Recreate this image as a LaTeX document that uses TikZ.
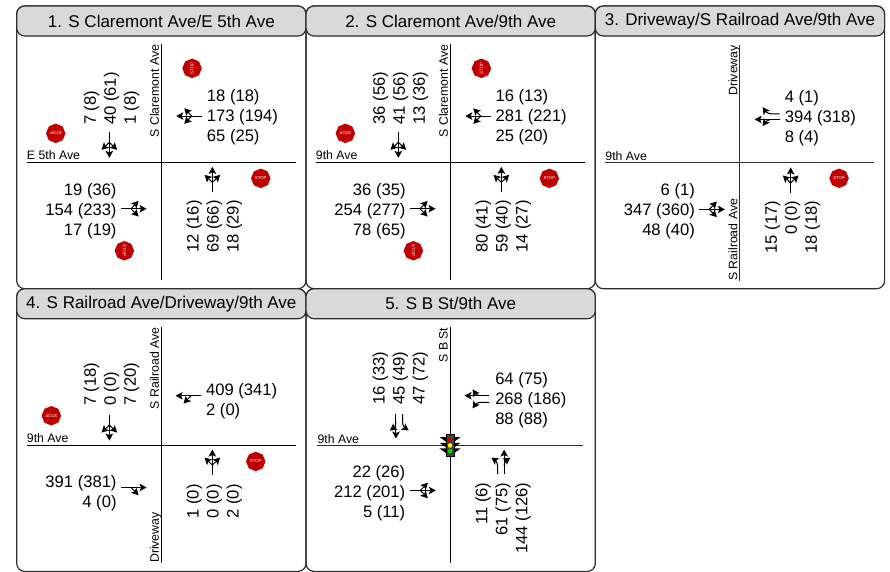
\documentclass[tikz,border=0pt]{standalone}
\usepackage{fontspec}
\setmainfont{Liberation Sans}
\usetikzlibrary{arrows.meta,positioning,shapes.geometric,calc}
\definecolor{rStop}{RGB}{192,0,0}
\definecolor{rHead}{RGB}{217,217,217}
\definecolor{rEdge}{RGB}{45,45,45}
\tikzset{
	mv/.style={-{Stealth[length=7pt,width=7.5pt,inset=1.5pt]},line width=1pt},
	pics/mvall/.style={code={
			\draw[mv](0,0)--(25.5,0);
			\draw[mv](10,0)--(17.5,7.8);
			\draw[mv](10,0)--(17.5,-7.8);
	}},
	pics/mvtl/.style={code={
			\draw[mv](0,0)--(25.5,0);
			\draw[mv](10,0)--(17.5,7.8);
	}},
	pics/mvtr/.style={code={
			\draw[mv](0,0)--(25.5,0);
			\draw[mv](10,0)--(17.5,-7.8);
	}},
	pics/mvltr/.style={code={
			\draw[mv](0,3.3)--(8,3.3) to[out=0,in=-125] (16.5,9.5);
			\draw[mv](0,-3.3)--(24.5,-3.3);
			\draw[mv](8,-3.3) to[out=0,in=125] (16.5,-9.5);
	}},
	pics/mvrtl/.style={code={
			\draw[mv](0,-2.8)--(8,-2.8) to[out=0,in=125] (17,-9.5);
			\draw[mv](0,2.8)--(25,2.8);
			\draw[mv](8,2.8) to[out=0,in=-125] (17,9.5);
	}}
}
\begin{document}
\begin{tikzpicture}[
			x=1pt,y=1pt,
			frame/.style={
				draw=rEdge,
				line width=1.2pt,
				rounded corners=8pt,
				minimum width=289.3pt,
				minimum height=282.7pt,
				inner sep=0pt,
				outer sep=0pt
			},
			hdr/.style={
				draw=rEdge,
				fill=rHead,
				line width=1.2pt,
				rounded corners=8pt,
				minimum width=289.3pt,
				minimum height=30pt,
				inner sep=0pt,
				outer sep=0pt,
				font=\fontsize{17}{20}\selectfont
			},
			road/.style={line width=1pt,black},
			vol/.style={inner sep=0pt,yshift=-1.5pt,font=\fontsize{16.6}{20}\selectfont},
			volup/.style={rotate=90,vol},
			st/.style={inner sep=0pt,font=\fontsize{12.3}{14}\selectfont},
			stop/.style={
				regular polygon,
				regular polygon sides=8,
				shape border rotate=22.5,
				fill=rStop,
				text=white,
				minimum size=19.5pt,
				inner sep=0pt,
				font=\fontsize{4.3}{5}\selectfont
			},
			lamp/.style={circle,minimum size=4.6pt,inner sep=0pt}
			]
			\useasboundingbox(0,0) rectangle (890,-571);
			\node[frame](box1) at (161.35,-147.35){};
			\node[frame,right=0pt of box1](box2){};
			\node[frame,right=0pt of box2](box3){};
			\node[frame,below=0pt of box1](box4){};
			\node[frame,below=0pt of box2](box5){};
			\node[hdr,anchor=north](hdr1) at (box1.north){1. S Claremont Ave/E 5th Ave};
			\node[hdr,anchor=north](hdr2) at (box2.north){2. S Claremont Ave/9th Ave};
			\node[hdr,anchor=north](hdr3) at (box3.north){3. Driveway/S Railroad Ave/9th Ave};
			\node[hdr,anchor=north](hdr4) at (box4.north){4. S Railroad Ave/Driveway/9th Ave};
			\node[hdr,anchor=north](hdr5) at (box5.north){5. S B St/9th Ave};
			
			% intersection 1
			\begin{scope}[shift={($(box1.center)+(0,-15)$)}]
				\draw[road](-134.6,0)--(134.6,0);
				\draw[road](0,118)--(0,-118);
				\node[st,anchor=base west](ew1) at (-134.6,2.4){E 5th Ave};
				\node[st,rotate=90,anchor=base east](ns1) at (-2.4,118){S Claremont Ave};
				\node[volup,align=left,anchor=west](sb1) at (-51.3,37.3){7 (8)\\40 (61)\\1 (8)};
				\node[vol,align=left,anchor=west](wb1) at (45.4,46.3){18 (18)\\173 (194)\\65 (25)};
				\node[vol,align=right,anchor=east](eb1) at (-44.6,-47){19 (36)\\154 (233)\\17 (19)};
				\node[volup,align=right,anchor=east](nb1) at (51.5,-37.7){12 (16)\\69 (66)\\18 (29)};
				\pic[rotate=270](msb1) at (-52,30){mvall};
				\pic[rotate=180](mwb1) at (40.4,46.3){mvall};
				\pic(meb1) at (-40.3,-46.4){mvall};
				\pic[rotate=90](mnb1) at (51,-30){mvall};
				\node[stop,rotate=90](stn1) at (30.7,94){STOP};
				\node[stop,rotate=180](stw1) at (-105.6,29){STOP};
				\node[stop](ste1) at (99.4,-16){STOP};
				\node[stop,rotate=270](sts1) at (-37,-88.4){STOP};
			\end{scope}
			
			% intersection 2
			\begin{scope}[shift={($(box2.center)+(-.3,-15)$)}]
				\draw[road](-134.6,0)--(134.6,0);
				\draw[road](0,118)--(0,-118);
				\node[st,anchor=base west](ew2) at (-134.6,2.4){9th Ave};
				\node[st,rotate=90,anchor=base east](ns2) at (-2.4,118){S Claremont Ave};
				\node[volup,align=left,anchor=west](sb2) at (-51.3,37.8){36 (56)\\41 (56)\\13 (36)};
				\node[vol,align=left,anchor=west](wb2) at (45,46.3){16 (13)\\281 (221)\\25 (20)};
				\node[vol,align=right,anchor=east](eb2) at (-44.6,-47){36 (35)\\254 (277)\\78 (65)};
				\node[volup,align=right,anchor=east](nb2) at (51.5,-37.7){80 (41)\\59 (40)\\14 (27)};
				\pic[rotate=270](msb2) at (-52,30){mvall};
				\pic[rotate=180](mwb2) at (40.4,46.3){mvall};
				\pic(meb2) at (-40.3,-46.4){mvall};
				\pic[rotate=90](mnb2) at (51,-30){mvall};
				\node[stop,rotate=90](stn2) at (31,94){STOP};
				\node[stop,rotate=180](stw2) at (-105,29){STOP};
				\node[stop](ste2) at (99,-16){STOP};
				\node[stop,rotate=270](sts2) at (-37,-88.4){STOP};
			\end{scope}
			
			% intersection 3
			\begin{scope}[shift={($(box3.center)+(-.3,-15.6)$)}]
				\draw[road,rEdge](-134.4,0)--(134.4,0);
				\draw[road,rEdge](0,118)--(0,-118);
				\node[st,anchor=base west](ew3) at (-134.4,2.4){9th Ave};
				\node[st,rotate=90,anchor=base east](ns3) at (-2.4,118){Driveway};
				\node[st,rotate=90,anchor=base west](nt3) at (-2.4,-118){S Railroad Ave};
				\node[vol,align=left,anchor=west](wb3) at (45,46.3){4 (1)\\394 (318)\\8 (4)};
				\node[vol,align=right,anchor=east](eb3) at (-44.6,-47){6 (1)\\347 (360)\\48 (40)};
				\node[volup,align=right,anchor=east](nb3) at (51.5,-37.7){15 (17)\\0 (0)\\18 (18)};
				\pic[rotate=180](mwb3) at (40,46.3){mvrtl};
				\pic(meb3) at (-40.3,-46.4){mvall};
				\pic[rotate=90](mnb3) at (51,-30){mvall};
				\node[stop](ste3) at (99.4,-15.3){STOP};
			\end{scope}
			
			% intersection 4
			\begin{scope}[shift={($(box4.center)+(0,-15)$)}]
				\draw[road](-134.6,0)--(134.6,0);
				\draw[road](0,118)--(0,-118);
				\node[st,anchor=base west](ew4) at (-134.6,2.4){9th Ave};
				\node[st,rotate=90,anchor=base east](ns4) at (-2.4,118){S Railroad Ave};
				\node[st,rotate=90,anchor=base west](nt4) at (-2.4,-118){Driveway};
				\node[volup,align=left,anchor=west](sb4) at (-51.3,39){7 (18)\\0 (0)\\7 (20)};
				\node[vol,align=left,anchor=west](wb4) at (44.6,45.3){409 (341)\\2 (0)};
				\node[vol,align=right,anchor=east](eb4) at (-44.6,-46.7){391 (381)\\4 (0)};
				\node[volup,align=right,anchor=east](nb4) at (51.5,-39){1 (0)\\0 (0)\\2 (0)};
				\pic[rotate=270](msb4) at (-52,30){mvall};
				\pic[rotate=180](mwb4) at (39.7,49.3){mvtl};
				\pic(meb4) at (-40.3,-42.4){mvtr};
				\pic[rotate=90](mnb4) at (51,-30){mvall};
				\node[stop,rotate=180](stw4) at (-110,29.3){STOP};
				\node[stop](ste4) at (94.4,-16.4){STOP};
			\end{scope}
			
			% intersection 5
			\begin{scope}[shift={($(box5.center)+(-.6,-15.4)$)}]
				\draw[road,rEdge](-132.7,0)--(132.7,0);
				\draw[road](0,118)--(0,-118);
				\node[st,anchor=base west](ew5) at (-132.7,2.4){9th Ave};
				\node[st,rotate=90,anchor=base east](ns5) at (-2.4,118){S B St};
				\node[volup,align=left,anchor=west](sb5) at (-51.3,40.7){16 (33)\\45 (49)\\47 (72)};
				\node[vol,align=left,anchor=west](wb5) at (45,46.3){64 (75)\\268 (186)\\88 (88)};
				\node[vol,align=right,anchor=east](eb5) at (-44.6,-46){22 (26)\\212 (201)\\5 (11)};
				\node[volup,align=right,anchor=east](nb5) at (51.5,-37){11 (6)\\61 (75)\\144 (126)};
				\pic[rotate=270](msb5) at (-50.8,31.4){mvltr};
				\pic[rotate=180](mwb5) at (39,46.5){mvltr};
				\pic(meb5) at (-39.7,-45){mvall};
				\pic[rotate=90](mnb5) at (50.8,-28.6){mvltr};
				\foreach \yy in {5.7,0,-5.7}{
					\fill[black](-3,\yy+2.7)--(-10.5,\yy+2.7)--(-3,\yy-2.7)--cycle;
					\fill[black](3,\yy+2.7)--(10.5,\yy+2.7)--(3,\yy-2.7)--cycle;
				}
				\node[draw=black,fill=black!75,minimum width=7.5pt,minimum height=22pt,inner sep=0pt](sig5) at (0,0){};
				\node[lamp,fill=red!80!black](sigr5) at (0,5.7){};
				\node[lamp,fill=yellow](sigy5) at (0,0){};
				\node[lamp,fill=green!85!black](sigg5) at (0,-5.7){};
			\end{scope}
		\end{tikzpicture}
\end{document}
